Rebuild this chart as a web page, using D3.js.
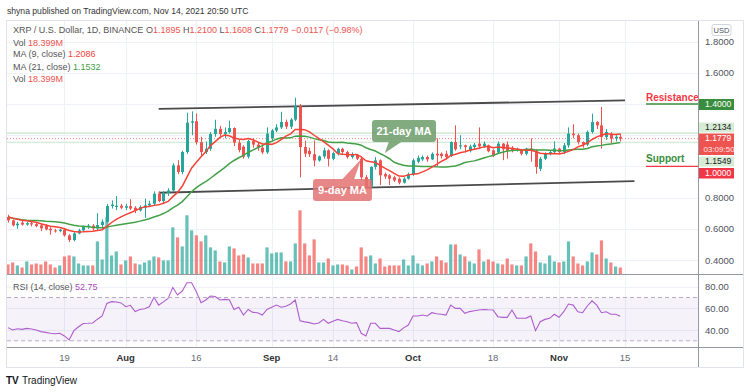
<!DOCTYPE html>
<html>
<head>
<meta charset="utf-8">
<script src="https://cdn.jsdelivr.net/npm/d3@7"></script>
<style>
  body { margin: 0; background: #fff; }
  svg text { font-family: "Liberation Sans", Arial, sans-serif; }
</style>
</head>
<body>
<svg id="chart" width="750" height="392"></svg>
<script>
// ---- data ----
var startDate = "2021-07-07";
var opens = [0.676,0.654,0.622,0.640,0.627,0.636,0.630,0.622,0.620,0.600,0.590,0.585,0.594,0.558,0.528,0.570,0.590,0.612,0.620,0.602,0.624,0.645,0.746,0.740,0.748,0.735,
  0.745,0.735,0.718,0.735,0.750,0.761,0.825,0.778,0.830,0.846,1.007,0.964,1.092,1.280,1.289,1.155,1.092,1.113,1.207,1.241,1.207,1.220,1.246,1.152,1.126,1.062,
  1.162,1.140,1.120,1.090,1.180,1.230,1.250,1.285,1.255,1.300,1.385,1.124,1.100,1.078,1.038,1.064,1.103,1.049,1.085,1.113,1.092,1.060,1.075,1.049,0.930,0.870,
  0.997,1.039,0.950,0.943,0.930,0.921,0.896,0.921,0.950,1.030,1.045,1.060,1.045,1.081,1.081,1.081,1.066,1.156,1.128,1.135,1.100,1.124,1.146,1.128,1.135,1.103,
  1.090,1.146,1.140,1.120,1.103,1.103,1.081,1.114,1.100,0.985,1.049,1.081,1.092,1.114,1.092,1.135,1.210,1.200,1.156,1.140,1.221,1.285,1.263,1.188,1.210,1.178,1.1895];
var highs = [0.690,0.660,0.645,0.650,0.645,0.650,0.640,0.630,0.630,0.610,0.600,0.600,0.600,0.565,0.580,0.600,0.620,0.630,0.630,0.700,0.660,0.760,0.782,0.810,0.760,0.760,
  0.790,0.745,0.750,0.793,0.780,0.840,0.840,0.840,0.860,1.020,1.040,1.100,1.344,1.353,1.340,1.190,1.160,1.220,1.299,1.260,1.250,1.293,1.250,1.170,1.135,1.170,
  1.180,1.150,1.130,1.250,1.240,1.270,1.350,1.300,1.310,1.440,1.400,1.166,1.120,1.166,1.070,1.120,1.110,1.095,1.120,1.120,1.100,1.090,1.080,1.060,0.945,1.000,
  1.060,1.045,0.960,0.950,0.940,0.930,0.930,0.960,1.050,1.070,1.070,1.070,1.090,1.180,1.090,1.100,1.160,1.263,1.200,1.140,1.140,1.150,1.250,1.160,1.140,1.110,
  1.160,1.150,1.160,1.130,1.120,1.110,1.120,1.180,1.110,1.060,1.090,1.100,1.160,1.120,1.150,1.250,1.270,1.210,1.160,1.230,1.338,1.290,1.381,1.240,1.220,1.200,1.2100];
var lows = [0.640,0.615,0.600,0.620,0.620,0.615,0.610,0.585,0.590,0.562,0.575,0.578,0.550,0.515,0.520,0.565,0.585,0.600,0.590,0.590,0.600,0.640,0.730,0.720,0.725,0.720,
  0.720,0.700,0.710,0.670,0.740,0.750,0.770,0.760,0.810,0.840,0.950,0.950,1.080,1.200,1.140,1.070,1.080,1.100,1.190,1.190,1.180,1.210,1.130,1.090,1.050,1.050,
  1.120,1.100,1.080,1.080,1.160,1.220,1.240,1.240,1.240,1.290,0.930,1.060,1.060,1.000,1.030,1.050,1.000,1.040,1.070,1.080,1.050,1.050,1.040,0.910,0.860,0.860,
  0.980,0.880,0.920,0.880,0.900,0.885,0.890,0.915,0.940,1.020,1.035,1.030,1.040,1.000,1.050,1.050,1.060,1.100,1.110,1.090,1.090,1.110,1.110,1.120,1.090,1.060,
  1.080,1.040,1.050,1.090,1.095,1.070,1.070,1.030,0.953,0.970,1.040,1.070,1.080,1.080,1.080,1.120,1.180,1.140,1.120,1.130,1.210,1.240,1.114,1.170,1.150,1.160,1.1608];
var closes = [0.654,0.622,0.633,0.627,0.636,0.628,0.617,0.603,0.596,0.590,0.585,0.594,0.558,0.528,0.570,0.590,0.612,0.620,0.602,0.624,0.645,0.746,0.755,0.748,0.735,0.745,
  0.730,0.718,0.740,0.750,0.761,0.825,0.778,0.830,0.846,1.007,0.964,1.092,1.280,1.289,1.155,1.092,1.113,1.207,1.241,1.207,1.220,1.246,1.152,1.105,1.062,1.162,
  1.140,1.120,1.090,1.210,1.230,1.250,1.285,1.255,1.300,1.385,1.124,1.082,1.078,1.038,1.064,1.103,1.049,1.085,1.113,1.092,1.060,1.075,1.049,0.930,0.870,0.997,
  1.039,0.943,0.935,0.921,0.910,0.896,0.921,0.950,1.039,1.055,1.060,1.045,1.081,1.070,1.066,1.060,1.156,1.110,1.135,1.124,1.128,1.139,1.128,1.146,1.097,1.070,
  1.146,1.110,1.100,1.103,1.110,1.081,1.114,1.100,0.996,1.049,1.081,1.092,1.114,1.092,1.135,1.210,1.200,1.156,1.140,1.221,1.285,1.263,1.188,1.221,1.178,1.190,1.1779];
// closes before the visible window, only used for the moving averages
var priorCloses = [0.78,0.74,0.72,0.70,0.66,0.62,0.64,0.66,0.61,0.63,0.65,0.67,0.70,0.70,0.68,0.67,0.67,0.66,0.69,0.67];
// volume, millions
var volumes = [26.3,31.5,23.7,18.4,34.2,26.3,28.9,26.3,34.2,26.3,18.4,23.7,47.3,49.9,47.3,28.9,23.7,23.7,23.7,86.7,39.4,149.8,49.9,60.4,26.3,36.8,
  47.3,28.9,26.3,31.5,36.8,47.3,44.7,36.8,36.8,123.5,97.2,73.6,155.1,115.6,102.5,86.7,102.5,71.0,63.1,34.2,31.5,73.6,68.3,49.9,52.6,44.7,
  28.9,28.9,28.9,71.0,55.2,57.8,57.8,34.2,34.2,81.5,168.2,81.5,49.9,92.0,31.5,31.5,42.0,23.7,26.3,26.3,23.7,13.1,21.0,71.0,47.3,49.9,
  28.9,42.0,21.0,23.7,23.7,23.7,39.4,23.7,49.9,28.9,23.7,28.9,34.2,47.3,36.8,31.5,78.8,78.8,52.6,47.3,34.2,28.9,65.7,34.2,39.4,34.2,
  28.9,26.3,42.0,26.3,23.7,23.7,47.3,81.5,60.4,31.5,28.9,49.9,34.2,31.5,34.2,86.7,47.3,28.9,23.7,34.2,57.8,52.6,89.4,42.0,31.5,21.0,18.399];
var rsiValues = [42.2,40.0,41.2,40.6,41.5,41.0,40.0,38.5,37.8,37.0,36.5,37.0,34.5,30.8,39.4,43.0,46.0,46.2,46.5,50.0,53.0,64.6,66.2,65.8,65.0,61.5,
  62.8,57.0,59.0,59.7,61.5,70.2,63.0,66.0,69.2,79.4,72.3,76.0,83.7,83.7,75.4,65.2,67.7,71.4,71.0,67.7,68.3,68.0,59.0,61.0,53.8,59.0,
  56.3,56.0,53.8,59.0,61.0,63.0,61.0,62.0,64.0,67.7,48.6,47.5,46.8,45.5,46.5,49.8,46.2,48.0,49.8,48.5,47.7,46.2,46.8,37.0,34.5,46.2,
  46.2,41.5,41.5,41.5,40.0,38.5,42.0,44.6,52.9,52.9,53.8,52.9,56.0,55.0,54.5,53.8,63.0,60.0,60.0,55.4,57.0,57.8,58.5,59.0,58.7,58.5,
  52.3,51.7,51.7,58.5,51.0,50.8,51.0,52.9,39.4,47.7,49.8,50.8,54.5,51.7,56.9,64.0,63.0,56.9,56.0,62.2,67.0,63.0,56.0,56.9,54.5,54.5,52.75];
var priceTicks = [0.4, 0.6, 0.8, 1.0, 1.2, 1.4, 1.6, 1.8];
var rsiTicks = [40, 60, 80];
var timeTicks = ["2021-07-19","2021-08-01","2021-08-16","2021-09-01","2021-09-14","2021-10-01","2021-10-18","2021-11-01","2021-11-15"];
var resistance = 1.4, support = 1.0;
var upperTrend = [["2021-08-08", 1.369], ["2021-11-15", 1.423]];
var lowerTrend = [["2021-08-08", 0.831], ["2021-11-17", 0.906]];
var ma9Last = 1.2134, ma21Last = 1.1549;

var parse = d3.utcParse("%Y-%m-%d");
var dates = d3.utcDay.range(parse(startDate), d3.utcDay.offset(parse(startDate), closes.length));
var bars = dates.map(function(d, i) {
  return { date: d, o: opens[i], h: highs[i], l: lows[i], c: closes[i], v: volumes[i], rsi: rsiValues[i] };
});

// simple moving averages of the close
var allCloses = priorCloses.concat(closes);
function sma(n) {
  return closes.map(function(c, i) {
    var j = i + priorCloses.length;
    return d3.mean(allCloses.slice(Math.max(0, j - n + 1), j + 1));
  });
}
var ma9 = sma(9), ma21 = sma(21);

// ---- layout ----
var left = 7, right = 698, paneTop = 21, paneBottom = 274.5, rsiBottom = 347, frameBottom = 367, frameRight = 743;
var green = "#26a69a", red = "#ef5350";

var svg = d3.select("#chart");
var x = d3.scaleUtc().domain([parse("2021-08-01"), parse("2021-11-15")]).range([125.7, 625]);
var y = d3.scaleLinear().domain([0.4, 1.4]).range([260, 104]);
var yVol = d3.scaleLinear().domain([0, d3.max(volumes)]).range([paneBottom, 210.3]);
var yRsi = d3.scaleLinear().domain([40, 80]).range([330, 286.7]);

svg.append("rect").attr("x", left - 0.5).attr("y", paneTop - 0.5).attr("width", frameRight - left + 1)
  .attr("height", frameBottom - paneTop + 1).attr("fill", "#fff").attr("stroke", "#e0e3eb");

var clip = svg.append("defs").append("clipPath").attr("id", "plot");
clip.append("rect").attr("x", left).attr("y", paneTop).attr("width", right - left).attr("height", rsiBottom - paneTop);

var grid = svg.append("g").attr("stroke", "#eef1f7").attr("stroke-width", 1);
grid.selectAll(".hg").data(priceTicks).enter().append("line")
  .attr("x1", left).attr("x2", right).attr("y1", function(d) { return Math.round(y(d)) + 0.5; })
  .attr("y2", function(d) { return Math.round(y(d)) + 0.5; });
grid.selectAll(".rg").data(rsiTicks).enter().append("line")
  .attr("x1", left).attr("x2", right).attr("y1", function(d) { return Math.round(yRsi(d)) + 0.5; })
  .attr("y2", function(d) { return Math.round(yRsi(d)) + 0.5; });
grid.selectAll(".vg").data(timeTicks).enter().append("line")
  .attr("y1", paneTop).attr("y2", rsiBottom)
  .attr("x1", function(d) { return Math.round(x(parse(d))) + 0.5; })
  .attr("x2", function(d) { return Math.round(x(parse(d))) + 0.5; });

var plot = svg.append("g").attr("clip-path", "url(#plot)");

// MA level lines
plot.selectAll(".lvl").data([ma9Last, ma21Last]).enter().append("line")
  .attr("x1", left).attr("x2", right).attr("y1", function(d) { return y(d); }).attr("y2", function(d) { return y(d); })
  .attr("stroke", "#c8e6c9").attr("stroke-width", 1.2);
plot.append("line").attr("x1", left).attr("x2", right)
  .attr("y1", y(closes[closes.length - 1])).attr("y2", y(closes[closes.length - 1]))
  .attr("stroke", red).attr("stroke-dasharray", "1,2").attr("opacity", 0.7);

// volume
plot.selectAll(".vol").data(bars).enter().append("rect")
  .attr("x", function(d) { return x(d.date) - 1.6; }).attr("width", 3.2)
  .attr("y", function(d) { return yVol(d.v); }).attr("height", function(d) { return paneBottom - yVol(d.v); })
  .attr("fill", function(d) { return d.c >= d.o ? green : red; }).attr("opacity", 0.7);

// trend lines
[upperTrend, lowerTrend].forEach(function(t) {
  plot.append("line")
    .attr("x1", x(parse(t[0][0]))).attr("y1", y(t[0][1]))
    .attr("x2", x(parse(t[1][0]))).attr("y2", y(t[1][1]))
    .attr("stroke", "#4a4a4a").attr("stroke-width", 1.8);
});

// candles
var candle = plot.selectAll(".candle").data(bars).enter().append("g");
candle.append("line")
  .attr("x1", function(d) { return Math.round(x(d.date)) + 0.5; }).attr("x2", function(d) { return Math.round(x(d.date)) + 0.5; })
  .attr("y1", function(d) { return y(d.h); }).attr("y2", function(d) { return y(d.l); })
  .attr("stroke", function(d) { return d.c >= d.o ? green : red; });
candle.append("rect")
  .attr("x", function(d) { return Math.round(x(d.date)) - 1; }).attr("width", 3)
  .attr("y", function(d) { return y(Math.max(d.o, d.c)); })
  .attr("height", function(d) { return Math.max(1, Math.abs(y(d.o) - y(d.c))); })
  .attr("fill", function(d) { return d.c >= d.o ? green : red; });

// moving averages
var maLine = function(arr) {
  return d3.line().x(function(d, i) { return x(dates[i]); }).y(function(d) { return y(d); })(arr);
};
plot.append("path").attr("d", maLine(ma21)).attr("fill", "none").attr("stroke", "#43a047").attr("stroke-width", 1.5);
plot.append("path").attr("d", maLine(ma9)).attr("fill", "none").attr("stroke", "#f44336").attr("stroke-width", 1.5);

// callouts
function callout(text, tipDate, tipPrice, box, base, fill) {
  var tx = x(parse(tipDate)), ty = y(tipPrice);
  var g = svg.append("g").attr("opacity", 0.85);
  g.append("rect").attr("x", box[0]).attr("y", box[1]).attr("width", box[2]).attr("height", box[3]).attr("rx", 3).attr("fill", fill);
  g.append("path").attr("d", "M" + base[0] + "," + base[2] + "L" + tx + "," + ty + "L" + base[1] + "," + base[2] + "Z").attr("fill", fill);
  svg.append("text").attr("x", box[0] + box[2] / 2).attr("y", box[1] + box[3] / 2 + 4).attr("text-anchor", "middle")
    .attr("fill", "#fff").attr("font-size", 11).attr("font-weight", "bold").text(text);
}
callout("21-day MA", "2021-09-25", 1.086, [372, 120, 64, 22], [389, 402, 141.5], "#6e9d6a");
callout("9-day MA", "2021-09-20", 1.047, [313, 179, 59, 22], [342, 354, 179.5], "#e57373");

// RSI pane
svg.append("rect").attr("x", left).attr("width", right - left).attr("y", yRsi(70)).attr("height", yRsi(30) - yRsi(70))
  .attr("fill", "#7e57c2").attr("opacity", 0.08);
[70, 30].forEach(function(v) {
  svg.append("line").attr("x1", left).attr("x2", right).attr("y1", yRsi(v)).attr("y2", yRsi(v))
    .attr("stroke", "#b9aac9").attr("stroke-dasharray", "4,3");
});
plot.append("path")
  .attr("d", d3.line().x(function(d) { return x(d.date); }).y(function(d) { return yRsi(d.rsi); })(bars))
  .attr("fill", "none").attr("stroke", "#b35fcf").attr("stroke-width", 1.1);

// separators
svg.append("line").attr("x1", left).attr("x2", frameRight).attr("y1", paneBottom).attr("y2", paneBottom).attr("stroke", "#9598a1");
svg.append("line").attr("x1", left).attr("x2", frameRight).attr("y1", rsiBottom + 0.5).attr("y2", rsiBottom + 0.5).attr("stroke", "#9598a1");
svg.append("line").attr("x1", right + 0.5).attr("x2", right + 0.5).attr("y1", paneTop).attr("y2", frameBottom).attr("stroke", "#9598a1");

// price labels on the axis
var fmt = d3.format(".4f");
var tags = [
  { v: resistance, top: 99, h: 11, fill: "#388e3c", color: "#fff" },
  { v: ma9Last, top: 122.5, h: 10, fill: "#d7ecd5", color: "#222" },
  { v: closes[closes.length - 1], top: 133.5, h: 21.5, fill: "#ef5350", color: "#fff", sub: "03:09:50" },
  { v: ma21Last, top: 156.5, h: 10, fill: "#d7ecd5", color: "#222" },
  { v: support, top: 168, h: 10.5, fill: "#f23645", color: "#fff" }
];

// price axis, hiding ticks that sit under a tag
var yAxis = d3.axisRight(y).tickValues(priceTicks.filter(function(p) {
  return !tags.some(function(t) { return y(p) > t.top - 5 && y(p) < t.top + t.h + 5; });
})).tickFormat(d3.format(".4f")).tickSize(0).tickPadding(7);
var ya = svg.append("g").attr("transform", "translate(" + right + ",0)").call(yAxis);
ya.select(".domain").remove();
ya.selectAll("text").attr("fill", "#50535e").attr("font-size", 9.5).style("font-family", "Liberation Sans, Arial");
var rAxis = d3.axisRight(yRsi).tickValues(rsiTicks).tickFormat(d3.format(".2f")).tickSize(0).tickPadding(7);
var ra = svg.append("g").attr("transform", "translate(" + right + ",0)").call(rAxis);
ra.select(".domain").remove();
ra.selectAll("text").attr("fill", "#50535e").attr("font-size", 9.5).style("font-family", "Liberation Sans, Arial");

// USD badge
svg.append("rect").attr("x", 712).attr("y", 24.5).attr("width", 19).attr("height", 11).attr("rx", 2)
  .attr("fill", "#fff").attr("stroke", "#d1d4dc");
svg.append("text").attr("x", 721.5).attr("y", 33).attr("text-anchor", "middle").attr("font-size", 7.5).attr("fill", "#50535e").text("USD");

tags.forEach(function(t) {
  svg.append("rect").attr("x", right + 1).attr("y", t.top).attr("width", 35).attr("height", t.h).attr("fill", t.fill);
  svg.append("text").attr("x", right + 7).attr("y", t.top + 7.8).attr("font-size", 8.6).attr("fill", t.color).text(fmt(t.v));
  if (t.sub) svg.append("text").attr("x", right + 5.5).attr("y", t.top + 18.3).attr("font-size", 8).attr("fill", t.color).attr("opacity", 0.85).text(t.sub);
});

// resistance / support marks
svg.append("line").attr("x1", 646).attr("x2", right).attr("y1", y(resistance)).attr("y2", y(resistance)).attr("stroke", "#388e3c").attr("stroke-width", 1.3);
svg.append("line").attr("x1", 646).attr("x2", right).attr("y1", y(support)).attr("y2", y(support)).attr("stroke", "#f23645").attr("stroke-width", 1.3);
svg.append("text").attr("x", 646).attr("y", y(resistance) - 3).attr("font-size", 10).attr("font-weight", "bold").attr("fill", "#f23645").text("Resistance");
svg.append("text").attr("x", 646).attr("y", y(support) - 4).attr("font-size", 10).attr("font-weight", "bold").attr("fill", "#388e3c").text("Support");

// time axis
var monthFmt = d3.utcFormat("%b"), dayFmt = d3.utcFormat("%-d");
svg.selectAll(".tt").data(timeTicks).enter().append("text")
  .attr("x", function(d) { return x(parse(d)); }).attr("y", 360.5).attr("text-anchor", "middle")
  .attr("font-size", 9.5)
  .attr("font-weight", function(d) { return parse(d).getUTCDate() === 1 ? "bold" : "normal"; })
  .attr("fill", function(d) { return parse(d).getUTCDate() === 1 ? "#333" : "#6a6d78"; })
  .text(function(d) { var p = parse(d); return p.getUTCDate() === 1 ? monthFmt(p) : dayFmt(p); });

// header and legends
svg.append("text").attr("x", 7).attr("y", 14).attr("font-size", 8.6).attr("fill", "#333")
  .text("shyna published on TradingView.com, Nov 14, 2021 20:50 UTC");
var last = bars[bars.length - 1];
var l1 = svg.append("text").attr("x", 13).attr("y", 32.5).attr("font-size", 9).attr("fill", "#555");
l1.append("tspan").text("XRP / U.S. Dollar, 1D, BINANCE  ");
[["O", last.o], ["H", last.h], ["L", last.l], ["C", last.c]].forEach(function(p) {
  l1.append("tspan").attr("fill", "#555").text(" " + p[0]);
  l1.append("tspan").attr("fill", red).text(fmt(p[1]));
});
l1.append("tspan").attr("fill", red).text("  \u22120.0117 (\u22120.98%)");
function legendRow(yy, label, value, color) {
  var t = svg.append("text").attr("x", 13).attr("y", yy).attr("font-size", 9).attr("fill", "#555");
  t.append("tspan").text(label + "  ");
  t.append("tspan").attr("fill", color).text(value);
}
legendRow(45.5, "Vol", "18.399M", red);
legendRow(57, "MA (9, close)", "1.2086", "#f44336");
legendRow(69.5, "MA (21, close)", "1.1532", "#43a047");
legendRow(82, "Vol", "18.399M", red);
var rl = svg.append("text").attr("x", 13).attr("y", 289.5).attr("font-size", 9).attr("fill", "#555");
rl.append("tspan").text("RSI (14, close)  ");
rl.append("tspan").attr("fill", "#ab47bc").text(d3.format(".2f")(rsiValues[rsiValues.length - 1]));

// footer logo
svg.append("text").attr("x", 6).attr("y", 383.5).attr("font-size", 10).attr("font-weight", "900").attr("fill", "#131722").text("TV");
svg.append("text").attr("x", 22).attr("y", 383.5).attr("font-size", 10).attr("fill", "#131722").text("TradingView");
</script>
</body>
</html>
